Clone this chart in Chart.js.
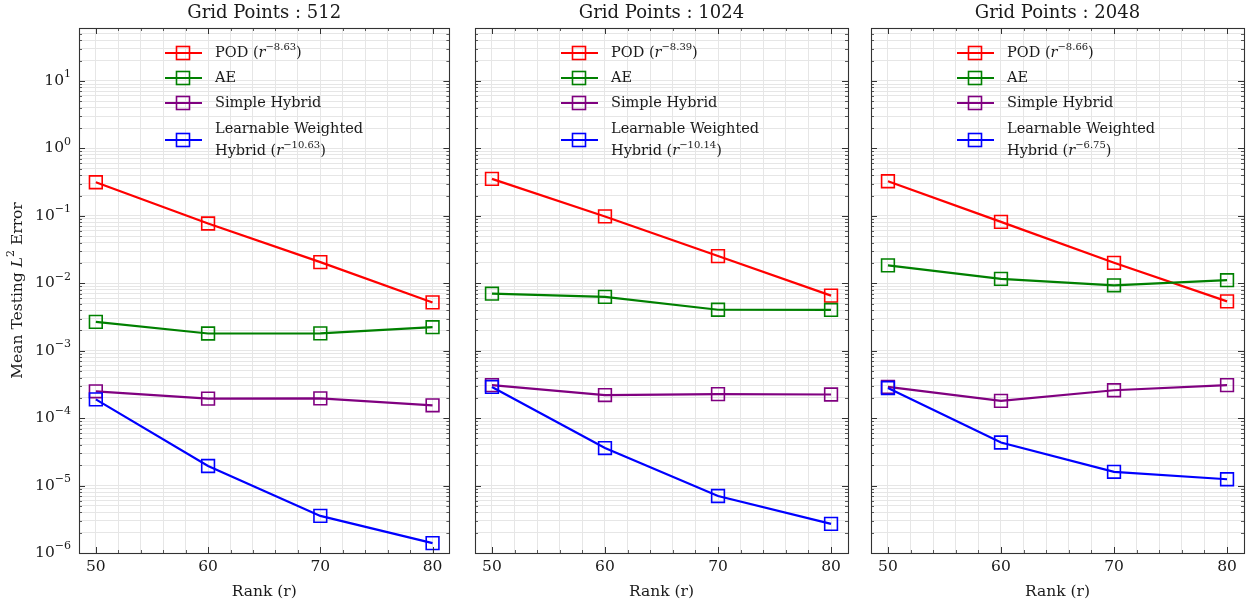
<!DOCTYPE html>
<html lang="en">
<head>
  <meta charset="UTF-8" />
  <title>Mean Testing L2 Error vs Rank</title>
  <script src="https://cdn.jsdelivr.net/npm/chart.js"></script>
  <style>
    body { margin: 0; background: #fff; }
    .panel { position: absolute; top: 0; height: 608px; }
  </style>
</head>
<body>
  <div class="panel" style="left:0;width:460px"><canvas id="c0"></canvas></div>
  <div class="panel" style="left:460px;width:400px"><canvas id="c1"></canvas></div>
  <div class="panel" style="left:860px;width:395px"><canvas id="c2"></canvas></div>

  <script>
    // ranks on the x axis, one error curve per method and grid size
    const ranks = [50, 60, 70, 80];
    const gridPoints = [512, 1024, 2048];

    const podErr = [
      [0.315, 0.077, 0.0206, 0.0052],
      [0.353, 0.098, 0.0253, 0.00655],
      [0.326, 0.0813, 0.0201, 0.00539]
    ];
    const aeErr = [
      [0.00268, 0.0018, 0.00181, 0.00223],
      [0.0070, 0.00627, 0.00405, 0.00402],
      [0.0184, 0.0116, 0.00933, 0.0111]
    ];
    const simpleErr = [
      [2.5e-4, 1.95e-4, 1.96e-4, 1.55e-4],
      [3.08e-4, 2.2e-4, 2.27e-4, 2.24e-4],
      [2.9e-4, 1.8e-4, 2.59e-4, 3.08e-4]
    ];
    const weightedErr = [
      [1.9e-4, 1.95e-5, 3.55e-6, 1.4e-6],
      [2.9e-4, 3.6e-5, 7.0e-6, 2.7e-6],
      [2.8e-4, 4.35e-5, 1.6e-5, 1.24e-5]
    ];

    // fitted convergence rates shown in the legend
    const podRate = ['−8.63', '−8.39', '−8.66'];
    const weightedRate = ['−10.63', '−10.14', '−6.75'];

    const xLabelTicks = [50, 60, 70, 80];
    const yDecades = [-6, -5, -4, -3, -2, -1, 0, 1];

    const SERIF = '"DejaVu Serif", serif';
    const INK = '#1a1a1a';

    // left axis width and right padding for each panel
    const panelBox = [
      { axisW: 79, padR: 8 },
      { axisW: 15, padR: 12 },
      { axisW: 11, padR: 11 }
    ];

    function fontOf(size, italic) {
      return (italic ? 'italic ' : '') + size + 'px ' + SERIF;
    }

    // text runs with italic and superscript parts
    function drawRich(ctx, segs, x, y, size, align) {
      const supSize = Math.round(size * 0.7);
      let w = 0;
      segs.forEach(s => {
        ctx.font = s.sup ? fontOf(supSize) : fontOf(size, s.it);
        s.w = ctx.measureText(s.t).width;
        w += s.w;
      });
      let cx = align === 'right' ? x - w : align === 'center' ? x - w / 2 : x;
      ctx.textAlign = 'left';
      ctx.textBaseline = 'middle';
      ctx.fillStyle = INK;
      segs.forEach(s => {
        ctx.font = s.sup ? fontOf(supSize) : fontOf(size, s.it);
        ctx.fillText(s.t, cx, s.sup ? y - size * 0.42 : y);
        cx += s.w;
      });
    }

    const decorations = {
      id: 'decorations',
      afterDraw(chart, args, opts) {
        const ctx = chart.ctx;
        const a = chart.chartArea;
        const xs = chart.scales.x;
        const ys = chart.scales.y;
        ctx.save();

        // inward ticks on all four sides
        ctx.strokeStyle = '#333';
        xs.ticks.forEach(t => {
          const px = Math.round(xs.getPixelForValue(t.value)) + 0.5;
          const len = t.value % 10 === 0 ? 6 : 3;
          ctx.lineWidth = len === 6 ? 1 : 0.8;
          ctx.beginPath();
          ctx.moveTo(px, a.bottom); ctx.lineTo(px, a.bottom - len);
          ctx.moveTo(px, a.top); ctx.lineTo(px, a.top + len);
          ctx.stroke();
        });
        ys.ticks.forEach(t => {
          const py = Math.round(ys.getPixelForValue(t.value)) + 0.5;
          const major = Math.abs(Math.log10(t.value) - Math.round(Math.log10(t.value))) < 1e-6;
          const len = major ? 6 : 3;
          ctx.lineWidth = major ? 1 : 0.8;
          ctx.beginPath();
          ctx.moveTo(a.left, py); ctx.lineTo(a.left + len, py);
          ctx.moveTo(a.right, py); ctx.lineTo(a.right - len, py);
          ctx.stroke();
        });

        // frame
        ctx.lineWidth = 1.1;
        ctx.strokeRect(Math.round(a.left) + 0.5, Math.round(a.top) + 0.5,
          Math.round(a.right - a.left), Math.round(a.bottom - a.top));

        // panel title
        ctx.fillStyle = INK;
        ctx.font = fontOf(18);
        ctx.textAlign = 'center';
        ctx.textBaseline = 'middle';
        ctx.fillText('Grid Points : ' + gridPoints[opts.panel], (a.left + a.right) / 2, 13);

        // decade labels and axis title on the first panel only
        if (opts.panel === 0) {
          yDecades.forEach(e => {
            const py = ys.getPixelForValue(Math.pow(10, e));
            const exp = e < 0 ? '−' + (-e) : String(e);
            drawRich(ctx, [{ t: '10' }, { t: exp, sup: true }], a.left - 8, py, 15.5, 'right');
          });
          ctx.save();
          ctx.translate(18, (a.top + a.bottom) / 2);
          ctx.rotate(-Math.PI / 2);
          drawRich(ctx, [{ t: 'Mean Testing ' }, { t: 'L', it: true }, { t: '2', sup: true }, { t: ' Error' }],
            0, 0, 15.5, 'center');
          ctx.restore();
        }

        // legend
        const i = opts.panel;
        const rows = [
          { color: '#ff0000', dy: 25, lines: [[{ t: 'POD (' }, { t: 'r', it: true }, { t: podRate[i], sup: true }, { t: ')' }]] },
          { color: '#008000', dy: 50, lines: [[{ t: 'AE' }]] },
          { color: '#800080', dy: 75, lines: [[{ t: 'Simple Hybrid' }]] },
          { color: '#0000ff', dy: 112, lines: [[{ t: 'Learnable Weighted' }],
            [{ t: 'Hybrid (' }, { t: 'r', it: true }, { t: weightedRate[i], sup: true }, { t: ')' }]] }
        ];
        rows.forEach(r => {
          const cy = a.top + r.dy;
          const mx = a.left + 104;
          ctx.strokeStyle = r.color;
          ctx.lineWidth = 2.2;
          ctx.beginPath();
          ctx.moveTo(a.left + 86, cy); ctx.lineTo(a.left + 123, cy);
          ctx.stroke();
          ctx.lineWidth = 1.6;
          ctx.strokeRect(mx - 6.5, cy - 6.5, 13, 13);
          const n = r.lines.length;
          r.lines.forEach((ln, k) => {
            drawRich(ctx, ln, a.left + 136, cy + (k - (n - 1) / 2) * 22, 14.5, 'left');
          });
        });
        ctx.restore();
      }
    };

    function series(label, values, color, order) {
      return {
        label: label,
        data: ranks.map((r, k) => ({ x: r, y: values[k] })),
        borderColor: color,
        backgroundColor: 'rgba(0,0,0,0)',
        borderWidth: 2.2,
        pointStyle: 'rect',
        pointRadius: 9,
        pointHoverRadius: 9,
        pointBorderWidth: 1.6,
        pointBackgroundColor: 'rgba(0,0,0,0)',
        tension: 0,
        order: order
      };
    }

    gridPoints.forEach((g, i) => {
      const box = panelBox[i];
      new Chart(document.getElementById('c' + i), {
        type: 'line',
        data: {
          datasets: [
            series('POD', podErr[i], '#ff0000', 4),
            series('AE', aeErr[i], '#008000', 3),
            series('Simple Hybrid', simpleErr[i], '#800080', 2),
            series('Learnable Weighted Hybrid', weightedErr[i], '#0000ff', 1)
          ]
        },
        options: {
          responsive: true,
          maintainAspectRatio: false,
          animation: false,
          layout: { padding: { top: 28, right: box.padR, left: 0, bottom: 0 } },
          plugins: {
            legend: { display: false },
            tooltip: { enabled: false },
            decorations: { panel: i }
          },
          scales: {
            x: {
              type: 'linear',
              min: 48.5,
              max: 81.5,
              afterBuildTicks: scale => {
                const t = [];
                for (let v = 50; v <= 80; v += 2) t.push({ value: v });
                scale.ticks = t;
              },
              afterFit: scale => { scale.height = 55; },
              grid: { color: '#e6e6e6', lineWidth: 1, drawTicks: false },
              border: { display: false },
              ticks: {
                autoSkip: false,
                maxRotation: 0,
                padding: 5,
                color: INK,
                font: { family: SERIF, size: 15.5 },
                callback: v => xLabelTicks.includes(v) ? String(v) : ''
              },
              title: {
                display: true,
                text: 'Rank (r)',
                color: INK,
                font: { family: SERIF, size: 15.5 },
                padding: { top: 0, bottom: 7 }
              }
            },
            y: {
              type: 'logarithmic',
              min: 1e-6,
              max: 61,
              afterBuildTicks: scale => {
                const t = [];
                yDecades.forEach(e => {
                  for (let m = 1; m <= 9; m++) {
                    const v = m * Math.pow(10, e);
                    if (v >= 1e-6 && v <= 61) t.push({ value: v });
                  }
                });
                scale.ticks = t;
              },
              afterFit: scale => { scale.width = box.axisW; },
              grid: { color: '#e6e6e6', lineWidth: 1, drawTicks: false },
              border: { display: false },
              ticks: { display: false, autoSkip: false }
            }
          }
        },
        plugins: [decorations]
      });
    });
  </script>
</body>
</html>
